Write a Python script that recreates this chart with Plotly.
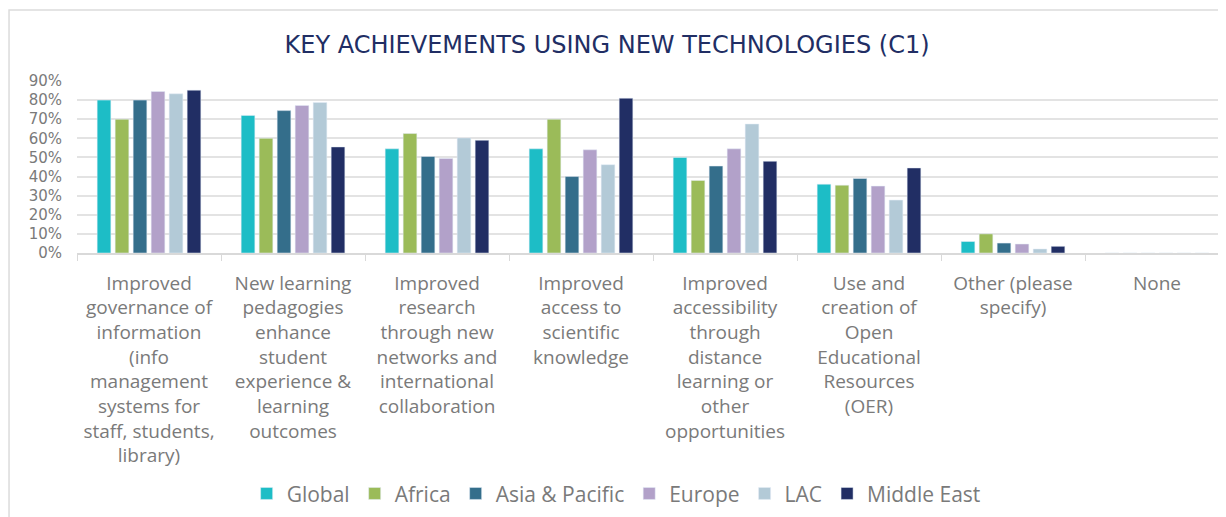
import plotly.graph_objects as go

categories = [
    "Improved<br>governance of<br>information<br>(info<br>management<br>systems for<br>staff, students,<br>library)",
    "New learning<br>pedagogies<br>enhance<br>student<br>experience &<br>learning<br>outcomes",
    "Improved<br>research<br>through new<br>networks and<br>international<br>collaboration",
    "Improved<br>access to<br>scientific<br>knowledge",
    "Improved<br>accessibility<br>through<br>distance<br>learning or<br>other<br>opportunities",
    "Use and<br>creation of<br>Open<br>Educational<br>Resources<br>(OER)",
    "Other (please<br>specify)",
    "None",
]

global_vals = [0.80, 0.72, 0.545, 0.545, 0.50, 0.36, 0.06, 0.0]
africa_vals = [0.70, 0.60, 0.625, 0.70, 0.38, 0.355, 0.10, 0.0]
asia_vals = [0.80, 0.745, 0.505, 0.40, 0.455, 0.39, 0.052, 0.0]
europe_vals = [0.845, 0.772, 0.495, 0.54, 0.545, 0.35, 0.047, 0.0]
lac_vals = [0.833, 0.788, 0.602, 0.462, 0.675, 0.277, 0.021, 0.0]
me_vals = [0.852, 0.555, 0.59, 0.81, 0.48, 0.445, 0.035, 0.0]

series = [
    ("Global", global_vals, "#1dbdc6"),
    ("Africa", africa_vals, "#9bbb59"),
    ("Asia & Pacific", asia_vals, "#346e8b"),
    ("Europe", europe_vals, "#b2a1c9"),
    ("LAC", lac_vals, "#b3cad7"),
    ("Middle East", me_vals, "#212e64"),
]

fig = go.Figure()
for name, vals, color in series:
    fig.add_trace(go.Bar(x=categories, y=vals, name=name, marker_color=color))

grey = "#7a7a7a"
fig.update_layout(
    width=1226, height=517,
    paper_bgcolor="white", plot_bgcolor="white",
    barmode="group", bargap=0.25, bargroupgap=0.24,
    margin=dict(l=69, r=5, t=73, b=272, autoexpand=False),
    font=dict(family="Open Sans, sans-serif", color=grey),
    title=dict(text="KEY ACHIEVEMENTS USING NEW TECHNOLOGIES (C1)",
               x=0.4886, xanchor="center", y=0.93, yanchor="middle",
               font=dict(family="DejaVu Sans, sans-serif", size=24, color="#212e64")),
    legend=dict(orientation="h", x=0.468, xanchor="center", y=-1.40, yanchor="middle",
                font=dict(size=21, color=grey), itemwidth=30, traceorder="normal"),
    showlegend=True,
)
fig.update_yaxes(range=[0, 0.9], dtick=0.1, tickformat=".0%", automargin=False,
                 gridcolor="#e3e3e3", gridwidth=1.5, zeroline=False,
                 tickfont=dict(family="DejaVu Sans, sans-serif", size=15, color=grey),
                 ticklabelstandoff=14)
fig.update_xaxes(tickson="boundaries", ticks="outside", ticklen=6, tickcolor="#d9d9d9",
                 showline=True, linecolor="#d9d9d9", linewidth=1.5, automargin=False,
                 tickfont=dict(size=19, color=grey), ticklabelstandoff=12,
                 tickangle=0)
fig.add_shape(type="rect", xref="paper", yref="paper",
              x0=-0.059, x1=1.02, y0=-2.0, y1=1.413,
              line=dict(color="#dcdcdc", width=1.5), layer="below")

fig.write_html("out.html")
